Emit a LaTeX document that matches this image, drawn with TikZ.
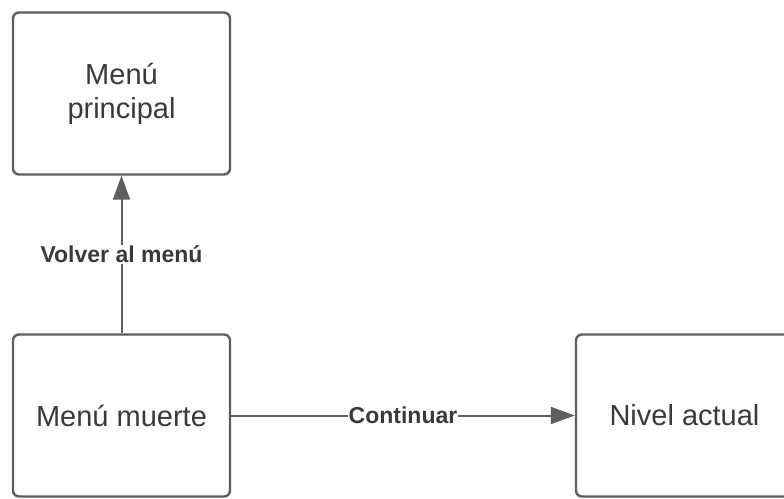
\documentclass[tikz,border=0pt]{standalone}
\usepackage{fontspec}
\setmainfont{Liberation Sans}
\usetikzlibrary{arrows.meta}
\definecolor{edge}{HTML}{5E5E5E}
\definecolor{ink}{HTML}{3A3A3A}
\begin{document}
\begin{tikzpicture}[x=1pt,y=-1pt,
  statebox/.style={draw=edge, line width=2.4pt, rounded corners=6pt, fill=white,
    minimum width=217pt, minimum height=162pt, inner sep=0pt,
    text=ink, font=\fontsize{29}{34}\selectfont, align=center},
  flow/.style={draw=edge, line width=2pt, -{Triangle[length=24pt,width=17pt]}},
  flowlabel/.style={fill=white, text=ink, inner sep=1pt, font=\fontsize{23}{27}\bfseries\selectfont}]
  \useasboundingbox (0,0) rectangle (784,498);
  \begin{scope}
    \clip (0,0) rectangle (784,498);
    \node[statebox] (main) at (121.5,93.5) {Menú\\principal};
    \node[statebox] (death) at (121.5,415.5) {Menú muerte};
    \node[statebox] (level) at (684.5,415.5) {Nivel actual};
  \end{scope}
  \draw[flow] (death.north) -- node[flowlabel, pos=0.5] {Volver al menú} (main.south);
  \draw[flow] (death.east) -- node[flowlabel, pos=0.5] {Continuar} (level.west);
\end{tikzpicture}
\end{document}
